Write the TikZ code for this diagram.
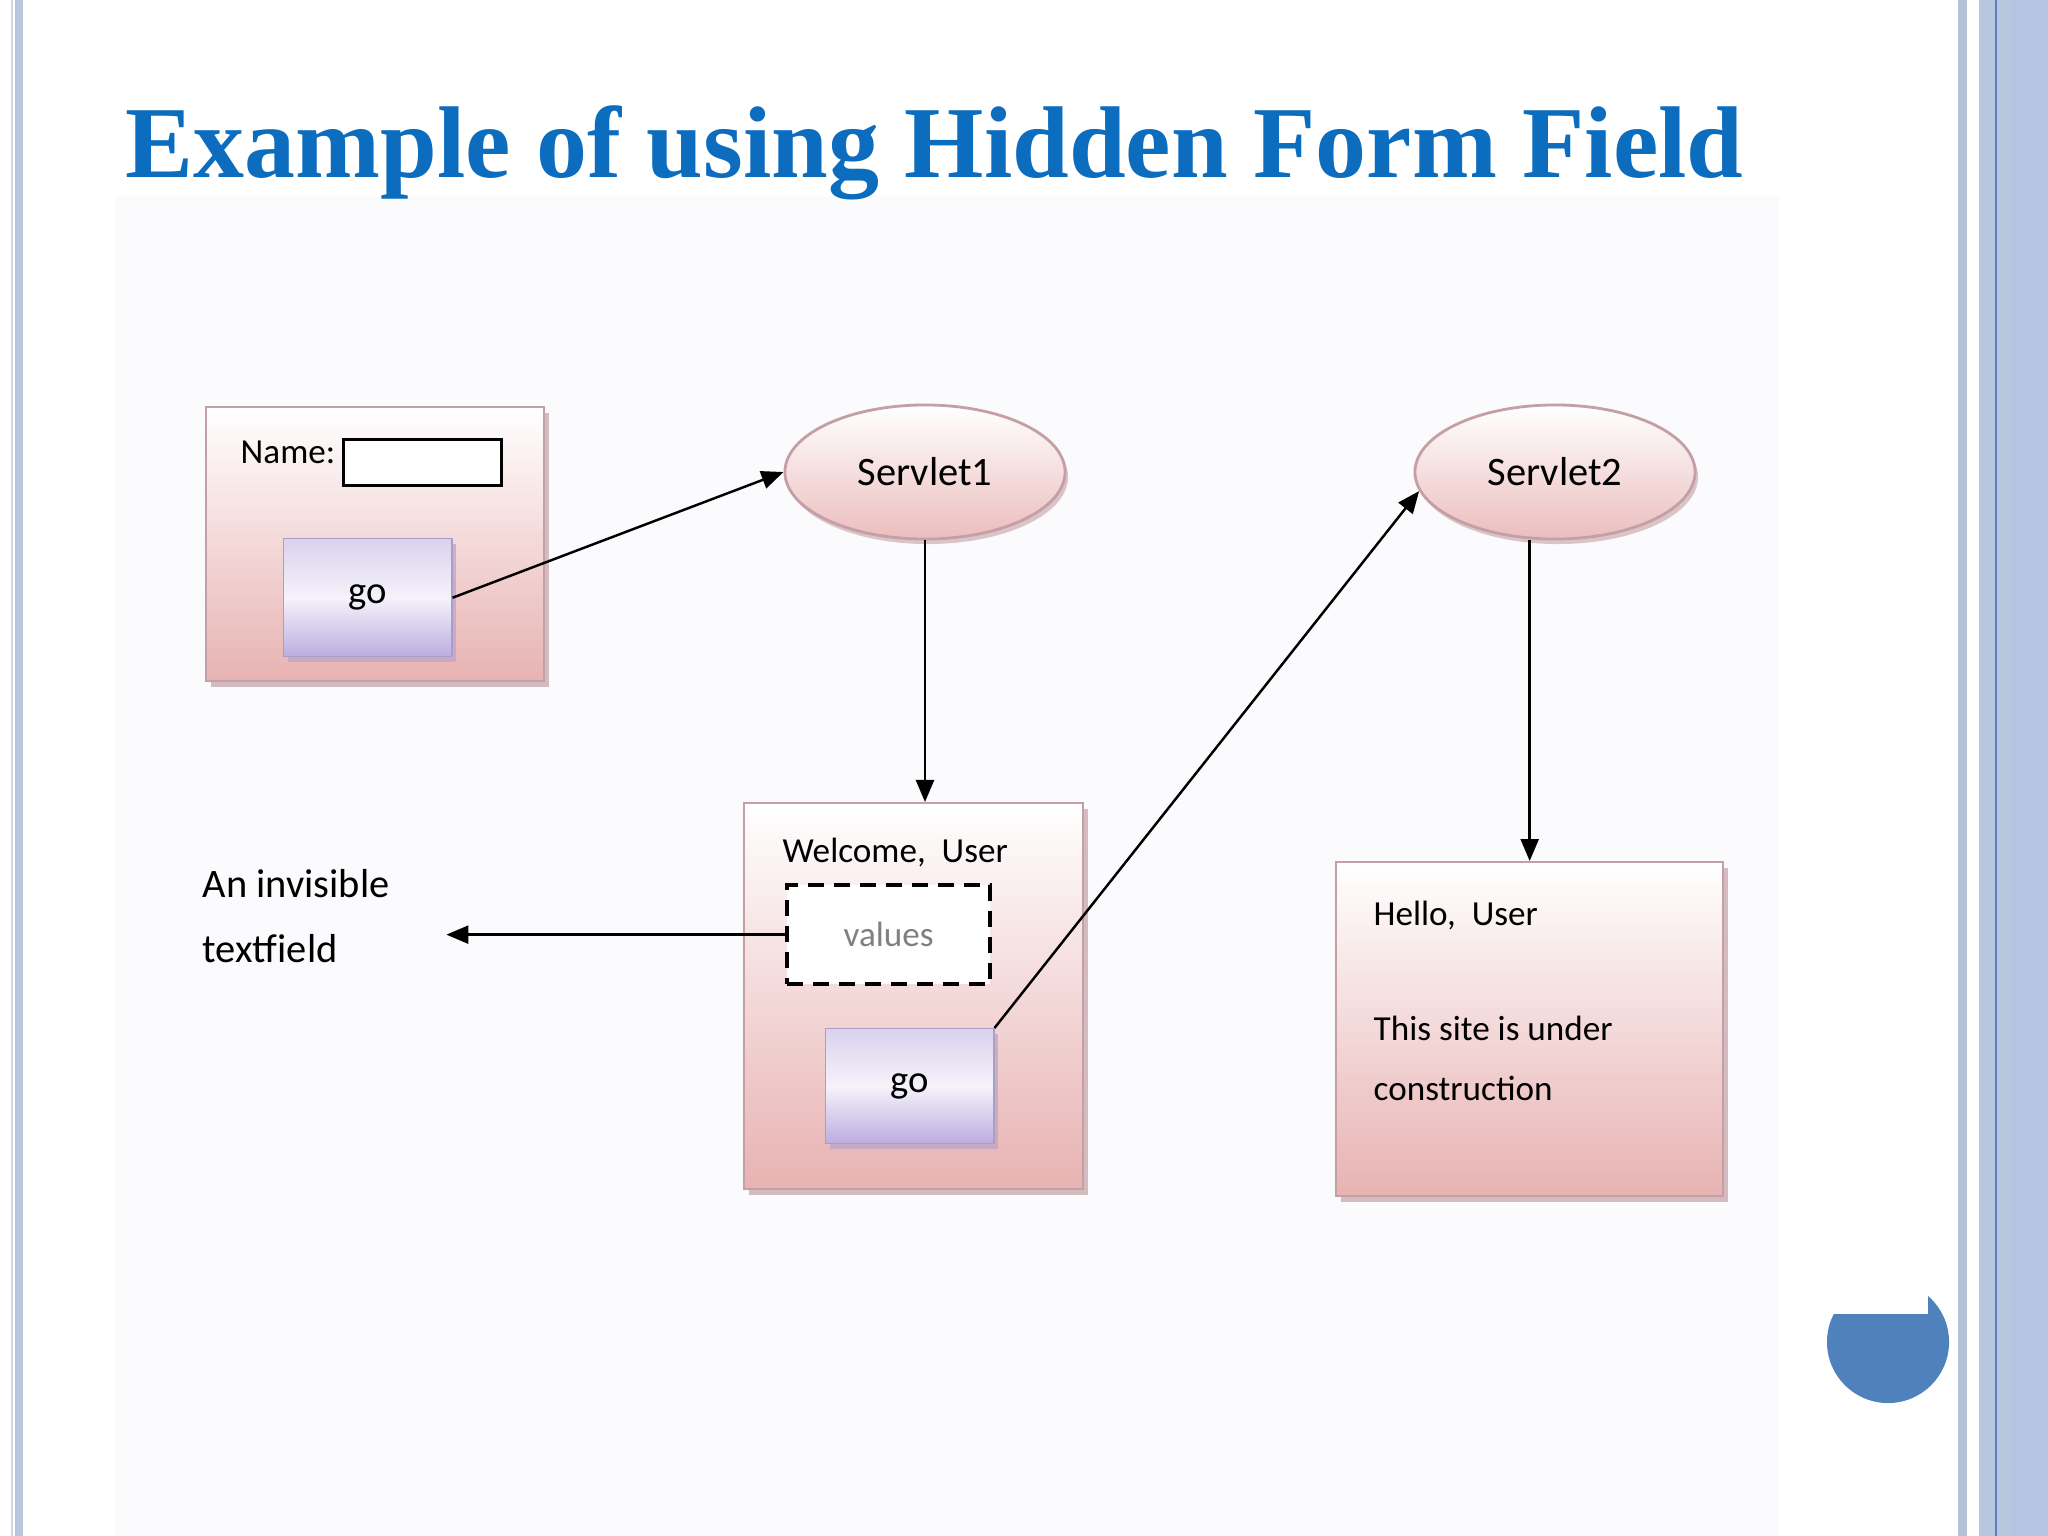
\documentclass[tikz,border=0pt]{standalone}
\usepackage{fontspec}
\setmainfont{Liberation Serif}
\setsansfont{Carlito}
\usetikzlibrary{shapes.geometric, arrows.meta, positioning, shadows}

\definecolor{titleblue}{RGB}{12,108,190}
\definecolor{boxpink}{RGB}{232,178,178}
\definecolor{boxline}{RGB}{196,160,166}
\definecolor{lavender}{RGB}{188,172,224}
\definecolor{bandblue}{RGB}{184,198,222}
\definecolor{bandedge}{RGB}{180,196,226}
\definecolor{bandline}{RGB}{90,126,192}
\definecolor{dotblue}{RGB}{79,129,189}
\definecolor{canvas}{RGB}{251,251,253}

\begin{document}
\begin{tikzpicture}[
        x=0.01cm, y=-0.01cm,
        >={Triangle[length=2.2mm, width=1.8mm]},
        font=\sffamily,
        % Define Styles
        pagebox/.style={rectangle, draw=boxline, line width=0.6pt, top color=white, bottom color=boxpink, anchor=north west, inner sep=0pt, drop shadow={shadow xshift=0.05cm, shadow yshift=-0.06cm, fill=boxline, opacity=0.7}},
        servlet/.style={ellipse, draw=boxline, line width=0.8pt, top color=white, bottom color=boxpink!85, minimum width=2.8cm, minimum height=1.34cm, inner sep=0pt, font=\sffamily\fontsize{11.5}{13}\selectfont, drop shadow={shadow xshift=0.03cm, shadow yshift=-0.05cm, fill=boxline, opacity=0.6}},
        gobutton/.style={rectangle, draw=lavender!70!gray, line width=0.4pt, top color=lavender!55!white, bottom color=lavender, middle color=white!85!lavender, anchor=north west, inner sep=0pt, font=\sffamily\fontsize{11}{13}\selectfont, drop shadow={shadow xshift=0.04cm, shadow yshift=-0.05cm, fill=lavender!60!boxline, opacity=0.8}},
        lbl/.style={inner sep=0pt, font=\sffamily\fontsize{10}{12}\selectfont},
        bigl/.style={inner sep=0pt, font=\sffamily\fontsize{11.5}{13}\selectfont},
        arrow/.style={->, line width=0.7pt, draw=black}
    ]

    % --- SLIDE FRAME ---
    \useasboundingbox (0,0) rectangle (2048,1536);
    \fill[white] (0,0) rectangle (2048,1536);
    \fill[canvas] (115,196) rectangle (1779,1536);
    \fill[bandblue!70!white] (11,0) rectangle (13,1536);
    \fill[bandblue] (15,0) rectangle (23,1536);
    \fill[bandblue!95!gray] (1958,0) rectangle (1967,1536);
    \fill[bandblue] (1979,0) rectangle (2048,1536);
    \fill[bandline] (1995,0) rectangle (1997,1536);
    \fill[bandedge] (2012,0) rectangle (2048,1536);

    % --- TITLE ---
    \node[anchor=base west, inner sep=0pt, text=titleblue, font=\rmfamily\bfseries\fontsize{29}{33}\selectfont] (title) at (125,177) {Example of using Hidden Form Field};

    % --- FORM PAGE ---
    \node[pagebox, minimum width=3.38cm, minimum height=2.74cm] (formA) at (205,406) {};
    \node[lbl, anchor=base west] (nameLbl) at (240,463) {Name:};
    \node[rectangle, draw=black, fill=white, line width=0.9pt, anchor=north west, minimum width=1.58cm, minimum height=0.46cm] (nameField) at (342,438) {};
    \node[gobutton, minimum width=1.68cm, minimum height=1.18cm] (goA) at (283,538) {go};

    % --- SERVLETS ---
    \node[servlet] (servA) at (925,472) {Servlet1};
    \node[servlet] (servB) at (1555,472) {Servlet2};

    % --- WELCOME PAGE ---
    \node[pagebox, minimum width=3.39cm, minimum height=3.86cm] (pageB) at (743,802) {};
    \node[lbl, anchor=base west] (welcome) at (782,862) {Welcome,\ \ User};
    \node[rectangle, draw=black, fill=white, dashed, dash pattern=on 0.16cm off 0.1cm, line width=1.2pt, anchor=north west, minimum width=2.03cm, minimum height=0.99cm, lbl, text=gray] (hidden) at (785,883) {values};
    \node[gobutton, minimum width=1.68cm, minimum height=1.15cm] (goB) at (825,1028) {go};

    % --- HELLO PAGE ---
    \node[pagebox, minimum width=3.87cm, minimum height=3.34cm] (pageC) at (1335,861) {};
    \node[lbl, anchor=base west] (hello) at (1373,925) {Hello,\ \ User};
    \node[lbl, anchor=base west] (siteA) at (1373,1040) {This site is under};
    \node[lbl, anchor=base west] (siteB) at (1373,1100) {construction};

    % --- NOTE ---
    \node[bigl, anchor=base west] (invisA) at (202,897) {An invisible};
    \node[bigl, anchor=base west] (invisB) at (202,962) {textfield};

    % --- DATA FLOW ---
    \draw[arrow] (goA.east) -- (servA.west);
    \draw[arrow] (servA.south) -- (servA.south |- pageB.north);
    \draw[arrow, shorten >=0.56cm] (hidden.west) -- (hidden.west -| invisA.east);
    \draw[arrow] (goB.north east) -- (servB.188);
    \draw[arrow] (servB.south -| pageC.north) -- (pageC.north);

    % --- CORNER MARK ---
    \begin{scope}
        \clip (1820,1314) rectangle (1960,1410) (1928,1280) rectangle (1960,1314);
        \fill[dotblue] (1888,1342) circle[radius=0.61cm];
    \end{scope}

\end{tikzpicture}
\end{document}
